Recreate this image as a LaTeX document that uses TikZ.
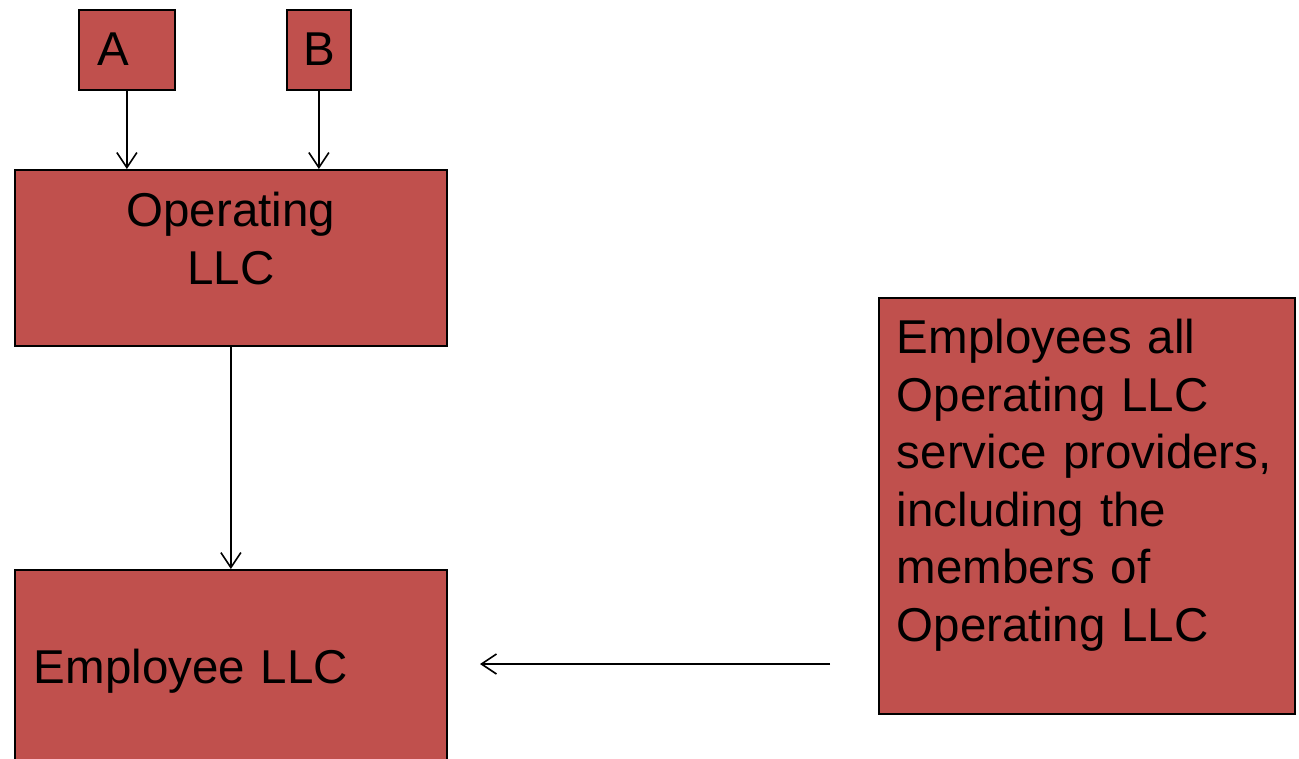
\documentclass[tikz,border=0pt]{standalone}
\usepackage{fontspec}
\setmainfont{Liberation Sans}
\usetikzlibrary{arrows.meta}
\definecolor{llcred}{HTML}{C0504D}

\begin{document}
\begin{tikzpicture}[
  x=1pt,y=-1pt,
  box/.style={draw=black,fill=llcred,line width=1.8pt,inner ysep=0pt,anchor=north west,
    font=\fontsize{47.5}{57.5}\selectfont},
  arr/.style={-{Straight Barb[length=15pt,width=20pt]},line width=1.6pt}
]
\useasboundingbox (0,0) rectangle (1299,758);
\node[box,align=left,text width=58pt,inner xsep=19pt,text height=56pt,text depth=24pt] (A) at (78,9) {A};
\node[box,align=center,text width=64pt,inner xsep=0pt,text height=56pt,text depth=24pt] (B) at (286,9) {B};
\node[box,align=center,text width=432pt,inner xsep=0pt,text height=57pt,text depth=119pt] (ops) at (14,169) {Operating\\LLC};
\node[box,align=left,text width=394pt,inner xsep=19pt,text height=114pt,text depth=120pt] (emp) at (14,569) {Employee LLC};
\node[box,align=left,text width=380pt,inner xsep=18pt,text height=56pt,text depth=360pt] (staff) at (878,297)
  {Employees all\\Operating LLC\\service providers,\\including the\\members of\\Operating LLC};
\coordinate (from) at (830,664);
\coordinate (to) at (480,664);
\draw[arr] (A) -- (A |- ops.north);
\draw[arr] (B) -- (B |- ops.north);
\draw[arr] (ops) -- (emp);
\draw[arr] (from) -- (to);
\end{tikzpicture}
\end{document}
